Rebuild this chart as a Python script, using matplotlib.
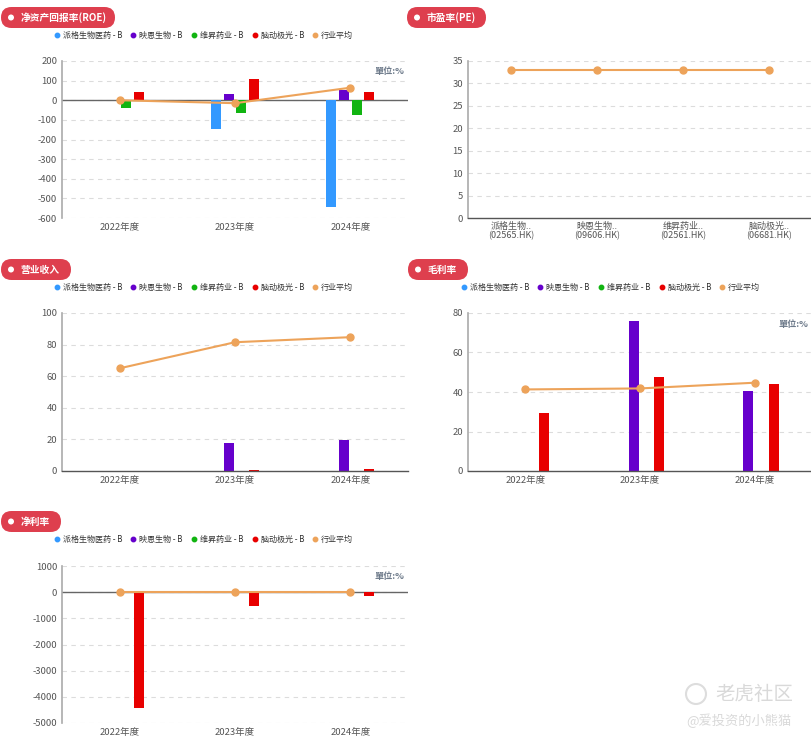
import numpy as np
import matplotlib.pyplot as plt
from matplotlib.patches import FancyBboxPatch, Circle

plt.rcParams['font.family'] = ['Noto Sans CJK SC', 'DejaVu Sans']
plt.rcParams['axes.unicode_minus'] = False

nan = np.nan

# ---- data ----
years = ['2022年度', '2023年度', '2024年度']
companies = ['派格生物医药 - B', '映恩生物 - B', '维昇药业 - B', '脑动极光 - B']
avg_name = '行业平均'

roe_pg = [nan, -146, -542]
roe_ye = [nan, 30, 52]
roe_ws = [-42, -63, -75]
roe_nd = [44, 107, 41]
roe_avg = [0, -15, 64]

pe_labels = ['派格生物..\n(02565.HK)', '映恩生物..\n(09606.HK)',
             '维昇药业..\n(02561.HK)', '脑动极光..\n(06681.HK)']
pe_avg = [33, 33, 33, 33]

rev_pg = [nan, nan, nan]
rev_ye = [nan, 17.5, 19.5]
rev_ws = [nan, nan, nan]
rev_nd = [nan, 0.6, 1.3]
rev_avg = [65, 81.5, 84.7]

gm_pg = [nan, nan, nan]
gm_ye = [nan, 75.8, 40.3]
gm_ws = [nan, nan, nan]
gm_nd = [29.3, 47.5, 44.1]
gm_avg = [41.3, 41.8, 44.7]

npm_pg = [nan, nan, nan]
npm_ye = [nan, nan, -30]
npm_ws = [nan, nan, nan]
npm_nd = [-4436, -521, -152]
npm_avg = [0, 0, 0]

colors = ['#3399FF', '#6600CC', '#11B411', '#E80000']
avg_color = '#EDA35A'
badge_color = '#DE3F4E'
tick_color = '#555555'

W, H = 812, 743
fig = plt.figure(figsize=(W / 100, H / 100), dpi=100)

# overlay axes in pixel units for badges, legends, watermark
ov = fig.add_axes([0, 0, 1, 1])
ov.set_xlim(0, W)
ov.set_ylim(H, 0)
ov.axis('off')
ov.patch.set_alpha(0)


def px_axes(l, t, r, b):
    return fig.add_axes([l / W, 1 - b / H, (r - l) / W, (b - t) / H])


def style_axes(ax, ticks, unit=None):
    ax.set_ylim(ticks[0], ticks[-1])
    ax.set_yticks(ticks)
    ax.yaxis.grid(True, ls=(0, (4, 4)), color='#dcdcdc', lw=0.8)
    ax.set_axisbelow(True)
    for s in ['top', 'right']:
        ax.spines[s].set_visible(False)
    ax.spines['left'].set_color('#aaaaaa')
    ax.spines['left'].set_linewidth(1.2)
    if ticks[0] == 0:
        ax.spines['bottom'].set_color('#555555')
        ax.spines['bottom'].set_linewidth(1.0)
    else:
        ax.spines['bottom'].set_visible(False)
        ax.axhline(0, color='#666666', lw=1.0, zorder=1.5)
    ax.tick_params(length=0, labelsize=6.8, colors=tick_color, pad=3.5)
    if unit:
        ax.text(0.99, 0.93, unit, transform=ax.transAxes, ha='right', va='center',
                fontsize=6.6, color='#6E7B8B', fontweight='bold')


def bar_panel(ax, series, avg):
    x = np.arange(len(years))
    slot, bw = 0.11, 0.087
    for k, vals in enumerate(series):
        ax.bar(x + (k - 1.5) * slot, vals, width=bw, color=colors[k], zorder=2)
    ax.plot(x, avg, color=avg_color, lw=1.5, marker='o', ms=5, zorder=3)
    ax.set_xlim(-0.5, len(years) - 0.5)
    ax.set_xticks(x)
    ax.set_xticklabels(years)


def badge(x0, y0, x1, y1, text):
    h = y1 - y0
    ov.add_patch(FancyBboxPatch((x0, y0), x1 - x0, h,
                                boxstyle='round,pad=0,rounding_size=%f' % (h / 2),
                                fc=badge_color, ec='none'))
    ov.add_patch(Circle((x0 + 10, (y0 + y1) / 2), 3.0, fc='white', ec='none'))
    ov.text(x0 + 20, (y0 + y1) / 2 + 0.5, text, color='white', fontsize=7,
            fontweight='bold', ha='left', va='center')


def legend(x0, y):
    offs = [57, 133, 194, 255, 315]
    names = companies + [avg_name]
    cols = colors + [avg_color]
    for o, n, c in zip(offs, names, cols):
        ov.plot(x0 + o, y, 'o', ms=3.2, color=c)
        ov.text(x0 + o + 6, y, n, fontsize=5.8, color='#333333', ha='left', va='center')


# ---- panel 1: ROE ----
ax1 = px_axes(62, 61, 408, 218)
bar_panel(ax1, [roe_pg, roe_ye, roe_ws, roe_nd], roe_avg)
style_axes(ax1, list(range(-600, 201, 100)), '單位:%')
badge(1, 7, 115, 28, '净资产回报率(ROE)')
legend(0, 35)

# ---- panel 2: PE ----
ax2 = px_axes(468, 61, 812, 218)
xp = np.arange(len(pe_labels))
ax2.plot(xp, pe_avg, color=avg_color, lw=1.5, marker='o', ms=5, zorder=3)
ax2.set_xlim(-0.5, len(pe_labels) - 0.5)
ax2.set_xticks(xp)
ax2.set_xticklabels(pe_labels, linespacing=0.95)
style_axes(ax2, list(range(0, 36, 5)))
ax2.tick_params(axis='x', labelsize=6.5, pad=3)
ov.text(809, 69, '单位:倍', fontsize=6.6, color='#6E7B8B', fontweight='bold',
        ha='right', va='center')
badge(407, 7, 486, 28, '市盈率(PE)')

# ---- panel 3: revenue ----
ax3 = px_axes(62, 313, 408, 471)
bar_panel(ax3, [rev_pg, rev_ye, rev_ws, rev_nd], rev_avg)
style_axes(ax3, list(range(0, 101, 20)))
badge(1, 259, 71, 280, '营业收入')
legend(0, 287)

# ---- panel 4: gross margin ----
ax4 = px_axes(468, 313, 812, 471)
bar_panel(ax4, [gm_pg, gm_ye, gm_ws, gm_nd], gm_avg)
style_axes(ax4, list(range(0, 81, 20)), '單位:%')
badge(408, 259, 468, 280, '毛利率')
legend(407, 287)

# ---- panel 5: net margin ----
ax5 = px_axes(62, 566, 408, 723)
bar_panel(ax5, [npm_pg, npm_ye, npm_ws, npm_nd], npm_avg)
style_axes(ax5, list(range(-5000, 1001, 1000)), '單位:%')
badge(1, 511, 61, 532, '净利率')
legend(0, 539)

# ---- watermark ----
ov.add_patch(Circle((696, 694), 10, fc='none', ec='#dddddd', lw=1.5))
ov.text(715, 694, '老虎社区', fontsize=14, color='#d9d9d9', ha='left', va='center')
ov.text(686, 721, '@爱投资的小熊猫', fontsize=9.5, color='#d9d9d9', ha='left', va='center')

fig.savefig('out.png', dpi=100)
